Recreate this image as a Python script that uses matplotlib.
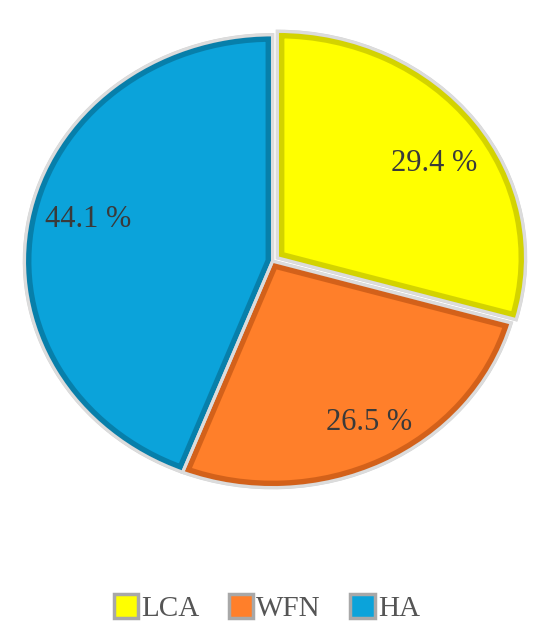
import matplotlib.pyplot as plt
from matplotlib.patches import Wedge

# data
labels = ['LCA', 'WFN', 'HA']
shares = [29.4, 26.5, 44.1]
colors = ['#FFFF00', '#FF7F2A', '#0BA3DA']
bevel = ['#C9C900', '#C95A16', '#07769F']
explode = [0.025, 0, 0]
# small label nudges in pixels (x, y)
nudge = [(2, -12), (10, -3), (6, 9)]

plt.rcParams['font.family'] = ['Liberation Serif', 'DejaVu Serif']

fig = plt.figure(figsize=(5.5, 6.37), dpi=100)
ax = fig.add_axes([0.04, 0.231, 0.92, 0.725])

wedges, texts, autotexts = ax.pie(
    shares, colors=colors, explode=explode, startangle=90, counterclock=False,
    autopct=lambda p: '%.1f %%' % p, pctdistance=0.78,
    wedgeprops=dict(edgecolor='#d4d4d4', linewidth=2.5),
    textprops=dict(fontsize=22, color='#3a3a3a'))

# inner bevel band, clipped to each wedge
for w, c in zip(wedges, bevel):
    b = Wedge(w.center, w.r, w.theta1, w.theta2, facecolor='none',
              edgecolor=c, linewidth=10, alpha=0.8, zorder=w.get_zorder() + 0.1)
    ax.add_patch(b)
    b.set_clip_path(w)
    rim = Wedge(w.center, w.r, w.theta1, w.theta2, facecolor='none',
                edgecolor='#dcdcdc', linewidth=2.2, zorder=w.get_zorder() + 0.2)
    ax.add_patch(rim)

ax.set_aspect('auto')
ax.set_xlim(-1.01, 1.03)
ax.set_ylim(-1.01, 1.03)
ax.axis('off')

# pixels per data unit
sx = 0.92 * 550 / 2.04
sy = 0.725 * 637 / 2.04
for t, (dx, dy) in zip(autotexts, nudge):
    x, y = t.get_position()
    t.set_position((x + dx / sx, y + dy / sy))

leg = fig.legend(wedges, labels, loc='center', bbox_to_anchor=(0.485, 0.045),
                 ncol=3, frameon=False, fontsize=21, handlelength=0.85,
                 handleheight=0.85, handletextpad=0.1, columnspacing=1.0,
                 labelcolor='#555555')
for h in leg.legend_handles:
    h.set_edgecolor('#a8a8a8')
    h.set_linewidth(2.5)

fig.savefig('out.png', dpi=100)
